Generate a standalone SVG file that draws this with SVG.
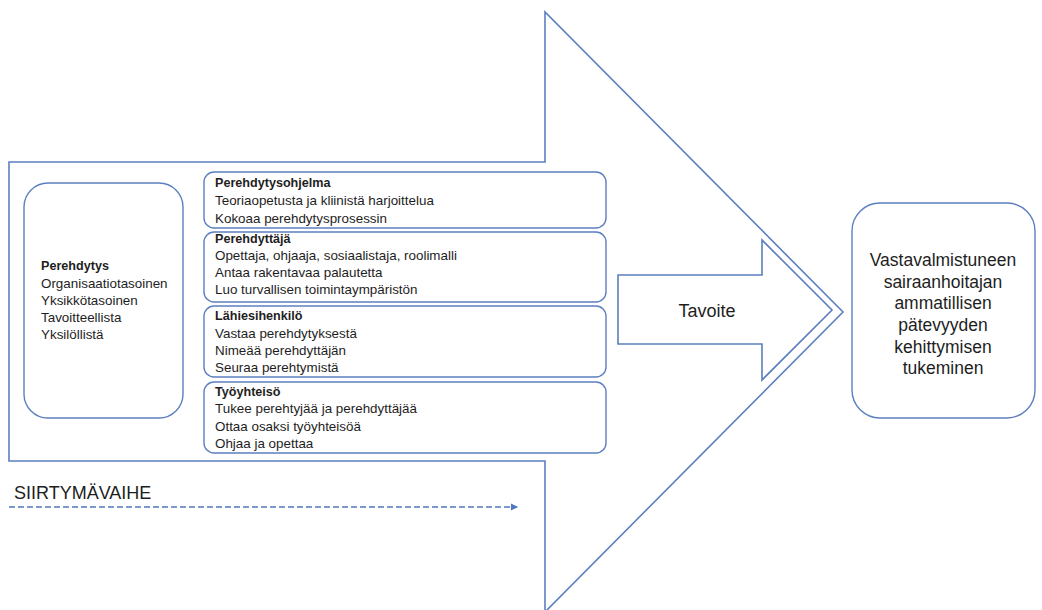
<svg xmlns="http://www.w3.org/2000/svg" width="1042" height="610" viewBox="0 0 1042 610">
  <defs>
    <style>
      .outline { fill: #ffffff; stroke: #5b7fc0; stroke-width: 1.6; }
      .box { fill: #ffffff; stroke: #5b7fc0; stroke-width: 1.4; }
      .txt { font-family: "Liberation Sans", Arial, sans-serif; font-size: 13.4px; fill: #1e1e1e; }
      .ttl { font-weight: bold; font-size: 12.6px; }
      .big { font-family: "Liberation Sans", Arial, sans-serif; font-size: 17.5px; fill: #1e1e1e; text-anchor: middle; }
      .dash { fill: none; stroke: #4f78bf; stroke-width: 1.6; stroke-dasharray: 6 3; }
    </style>
    <marker id="tri" markerWidth="8" markerHeight="8" refX="6" refY="4" orient="auto" markerUnits="userSpaceOnUse">
      <path d="M0,0.5 L7,4 L0,7.5 Z" fill="#4f78bf"/>
    </marker>
  </defs>

  <rect width="1042" height="610" fill="#ffffff"/>

  <!-- large block arrow: the transition phase -->
  <g id="phase-arrow">
    <path class="outline" d="M9,162 H545 V12 L843,312 L545,612 V461 H9 Z"/>
  </g>

  <!-- orientation overview -->
  <g id="node-perehdytys">
    <rect class="box" x="24" y="183" width="159" height="235" rx="24"/>
    <text class="txt ttl" x="41" y="270">Perehdytys</text>
    <text class="txt" x="41" y="288">Organisaatiotasoinen</text>
    <text class="txt" x="41" y="305">Yksikkötasoinen</text>
    <text class="txt" x="41" y="322">Tavoitteellista</text>
    <text class="txt" x="41" y="339">Yksilöllistä</text>
  </g>

  <g id="node-ohjelma">
    <rect class="box" x="204" y="172" width="402" height="56" rx="10"/>
    <text class="txt ttl" x="215" y="187">Perehdytysohjelma</text>
    <text class="txt" x="215" y="205">Teoriaopetusta ja kliinistä harjoittelua</text>
    <text class="txt" x="215" y="223">Kokoaa perehdytysprosessin</text>
  </g>

  <g id="node-perehdyttaja">
    <rect class="box" x="204" y="232" width="402" height="70" rx="10"/>
    <text class="txt ttl" x="215" y="243">Perehdyttäjä</text>
    <text class="txt" x="215" y="260">Opettaja, ohjaaja, sosiaalistaja, roolimalli</text>
    <text class="txt" x="215" y="277">Antaa rakentavaa palautetta</text>
    <text class="txt" x="215" y="294">Luo turvallisen toimintaympäristön</text>
  </g>

  <g id="node-lahiesihenkilo">
    <rect class="box" x="204" y="306" width="402" height="71" rx="10"/>
    <text class="txt ttl" x="215" y="320">Lähiesihenkilö</text>
    <text class="txt" x="215" y="338">Vastaa perehdytyksestä</text>
    <text class="txt" x="215" y="355">Nimeää perehdyttäjän</text>
    <text class="txt" x="215" y="372">Seuraa perehtymistä</text>
  </g>

  <g id="node-tyoyhteiso">
    <rect class="box" x="204" y="382" width="402" height="71" rx="10"/>
    <text class="txt ttl" x="215" y="396">Työyhteisö</text>
    <text class="txt" x="215" y="413">Tukee perehtyjää ja perehdyttäjää</text>
    <text class="txt" x="215" y="431">Ottaa osaksi työyhteisöä</text>
    <text class="txt" x="215" y="448">Ohjaa ja opettaa</text>
  </g>

  <!-- goal arrow -->
  <g id="node-tavoite">
    <path class="outline" d="M618,275 H762 V240 L832,310 L762,380 V344 H618 Z"/>
    <text class="big" x="707" y="317" style="font-size:18px">Tavoite</text>
  </g>

  <!-- outcome -->
  <g id="node-tulos">
    <rect class="box" x="852" y="203" width="183" height="215" rx="28"/>
    <text class="big" x="943" y="266">Vastavalmistuneen</text>
    <text class="big" x="943" y="288">sairaanhoitajan</text>
    <text class="big" x="943" y="309">ammatillisen</text>
    <text class="big" x="943" y="331">pätevyyden</text>
    <text class="big" x="943" y="353">kehittymisen</text>
    <text class="big" x="943" y="374">tukeminen</text>
  </g>

  <!-- timeline -->
  <g id="connectors">
    <text class="big" x="14" y="499" style="text-anchor:start;font-size:18px">SIIRTYMÄVAIHE</text>
    <line class="dash" x1="9" y1="507" x2="517" y2="507" marker-end="url(#tri)"/>
  </g>
</svg>
